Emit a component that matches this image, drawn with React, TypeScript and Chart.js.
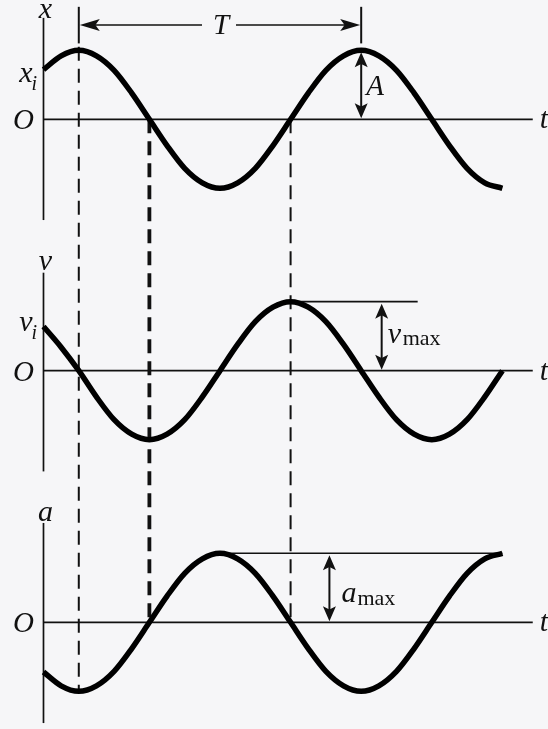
import { useEffect, useRef } from "react";
import { Chart, registerables } from "chart.js";

Chart.register(...registerables);

// Time in quarter periods (one period T = 4 units), sampled every T/16.
const times = [0, 0.25, 0.5, 0.75, 1, 1.25, 1.5, 1.75, 2, 2.25, 2.5, 2.75, 3, 3.25, 3.5, 3.75, 4, 4.25, 4.5, 4.75, 5, 5.25, 5.5, 5.75, 6, 6.25, 6.5];

// Each quantity in units of its own amplitude (A, v_max, a_max).
const position = [0.72, 0.92, 1, 0.92, 0.71, 0.38, 0, -0.38, -0.71, -0.92, -1, -0.92, -0.71, -0.38, 0, 0.38, 0.71, 0.92, 1, 0.92, 0.71, 0.38, 0, -0.38, -0.71, -0.92, -1];
const velocity = [0.64, 0.34, 0, -0.38, -0.71, -0.92, -1, -0.92, -0.71, -0.38, 0, 0.38, 0.71, 0.92, 1, 0.92, 0.71, 0.38, 0, -0.38, -0.71, -0.92, -1, -0.92, -0.71, -0.38, 0];
const acceleration = [-0.72, -0.92, -1, -0.92, -0.71, -0.38, 0, 0.38, 0.71, 0.92, 1, 0.92, 0.71, 0.38, 0, -0.38, -0.71, -0.92, -1, -0.92, -0.71, -0.38, 0, 0.38, 0.71, 0.92, 1];

// Axis names and the initial-value labels.
const axisNames = ["x", "v", "a"];
const initialNames = ["x", "v"];

// One period marked between two successive maxima of x.
const periodStart = 0.5;
const periodEnd = 4.5;

// Dashed guides dropped through the three graphs: time, top (x graph), bottom (a graph).
const guideTimes = [0.5, 1.5, 3.5];
const guideTops = [1.05, 0, 0];
const guideBottoms = [-1, 0, 0];

// Amplitude markers: arrow time, reference line start/end.
const amplitudeArrowTimes = [4.5, 4.79, 4.05];
const amplitudeLineStarts = [4.5, 3.5, 2.5];
const amplitudeLineEnds = [4.5, 5.3, 6.5];

const SERIF = '"Liberation Serif", "Times New Roman", serif';
const INK = "#111";

const panelIds = ["yx", "yv", "ya"];

function arrowHead(ctx, x, y, dx, dy, len, half) {
  const px = -dy;
  const py = dx;
  ctx.beginPath();
  ctx.moveTo(x, y);
  ctx.lineTo(x - dx * len + px * half, y - dy * len + py * half);
  ctx.lineTo(x - dx * len * 0.78, y - dy * len * 0.78);
  ctx.lineTo(x - dx * len - px * half, y - dy * len - py * half);
  ctx.closePath();
  ctx.fill();
}

function line(ctx, x1, y1, x2, y2, w) {
  ctx.lineWidth = w;
  ctx.beginPath();
  ctx.moveTo(x1, y1);
  ctx.lineTo(x2, y2);
  ctx.stroke();
}

function text(ctx, s, x, y, font, align = "left") {
  ctx.font = font;
  ctx.textAlign = align;
  ctx.textBaseline = "alphabetic";
  ctx.fillText(s, x, y);
}

const diagramPlugin = {
  id: "diagram",
  beforeDraw(chart) {
    const { ctx, width, height } = chart;
    ctx.save();
    ctx.fillStyle = "#f6f6f8";
    ctx.fillRect(0, 0, width, height);
    ctx.restore();
  },
  beforeDatasetsDraw(chart) {
    const { ctx, scales } = chart;
    const X = (t) => scales.x.getPixelForValue(t);
    const Y = (id, v) => scales[id].getPixelForValue(v);
    ctx.save();
    ctx.strokeStyle = INK;
    ctx.fillStyle = INK;
    ctx.lineCap = "butt";

    // axes of the three graphs
    const axisTop = [1.47, 1.42, 1.44];
    const axisBottom = [-1.46, -1.46, -1.46];
    panelIds.forEach((id, i) => {
      line(ctx, X(0), Y(id, axisTop[i]), X(0), Y(id, axisBottom[i]), 1.7);
      line(ctx, X(0), Y(id, 0), X(6.93), Y(id, 0), 1.7);
    });

    // dashed guides
    ctx.setLineDash([14, 8]);
    guideTimes.forEach((t, i) => {
      line(ctx, X(t), Y("yx", guideTops[i]), X(t), Y("ya", guideBottoms[i]), i === 1 ? 3.8 : 2);
    });
    ctx.setLineDash([]);

    // amplitude reference lines
    panelIds.forEach((id, i) => {
      if (amplitudeLineEnds[i] > amplitudeLineStarts[i]) {
        line(ctx, X(amplitudeLineStarts[i]), Y(id, 1), X(amplitudeLineEnds[i]), Y(id, 1), 1.6);
      }
    });
    ctx.restore();
  },
  afterDatasetsDraw(chart) {
    const { ctx, scales } = chart;
    const X = (t) => scales.x.getPixelForValue(t);
    const Y = (id, v) => scales[id].getPixelForValue(v);
    ctx.save();
    ctx.strokeStyle = INK;
    ctx.fillStyle = INK;

    const x0 = X(0);
    const italic = `italic 30px ${SERIF}`;

    // axis names, origins and t
    panelIds.forEach((id, i) => {
      const zero = Y(id, 0);
      text(ctx, axisNames[i], x0 + 2, Y(id, 1.57) + 7.5, italic, "center");
      text(ctx, "O", x0 - 20, zero + 10, `italic 29px ${SERIF}`, "center");
      text(ctx, "t", X(7.03), zero + 9, italic, "left");
    });

    // initial values
    initialNames.forEach((n, i) => {
      const id = panelIds[i];
      const base = Y(id, i === 0 ? 0.54 : 0.58);
      text(ctx, n, x0 - 11, base, italic, "right");
      text(ctx, "i", x0 - 12, base + 8, `italic 20px ${SERIF}`, "left");
    });

    // period T
    const tickTop = Y("yx", 1.63);
    const tickBottom = Y("yx", 1.1);
    const yT = Y("yx", 1.367);
    const xs = X(periodStart);
    const xe = X(periodEnd);
    line(ctx, xs, tickTop, xs, tickBottom, 2);
    line(ctx, xe, tickTop, xe, tickBottom, 2);
    const xMid = (xs + xe) / 2;
    line(ctx, xs + 10, yT, xMid - 18, yT, 1.6);
    line(ctx, xMid + 16, yT, xe - 10, yT, 1.6);
    arrowHead(ctx, xs + 1, yT, -1, 0, 20, 6);
    arrowHead(ctx, xe - 1, yT, 1, 0, 20, 6);
    text(ctx, "T", xMid + 1, yT + 9, `italic 29px ${SERIF}`, "center");

    // amplitude arrows and labels
    panelIds.forEach((id, i) => {
      const ax = X(amplitudeArrowTimes[i]);
      const top = Y(id, 1) + 2;
      const bot = Y(id, 0) - 1;
      line(ctx, ax, top + 8, ax, bot - 8, 2);
      arrowHead(ctx, ax, top, 0, -1, 15, 6.5);
      arrowHead(ctx, ax, bot, 0, 1, 15, 6.5);
    });
    text(ctx, "A", X(4.5) + 5, Y("yx", 0.35), `italic 29px ${SERIF}`, "left");
    text(ctx, "v", X(4.79) + 6, Y("yv", 0.4), italic, "left");
    text(ctx, "max", X(4.79) + 21, Y("yv", 0.37), `22px ${SERIF}`, "left");
    text(ctx, "a", X(4.05) + 12, Y("ya", 0.3), italic, "left");
    text(ctx, "max", X(4.05) + 28, Y("ya", 0.25), `22px ${SERIF}`, "left");

    ctx.restore();
  },
};

function curve(values, id) {
  return {
    data: times.map((t, i) => ({ x: t, y: values[i] })),
    yAxisID: id,
    borderColor: "#000",
    borderWidth: 5.5,
    cubicInterpolationMode: "monotone",
    pointRadius: 0,
    fill: false,
  };
}

export default function App() {
  const ref = useRef(null);
  useEffect(() => {
    const chart = new Chart(ref.current, {
      type: "line",
      data: {
        datasets: [curve(position, "yx"), curve(velocity, "yv"), curve(acceleration, "ya")],
      },
      options: {
        animation: false,
        responsive: false,
        maintainAspectRatio: false,
        events: [],
        layout: { padding: 0 },
        plugins: { legend: { display: false }, tooltip: { enabled: false } },
        scales: {
          x: { type: "linear", min: -0.616, max: 7.146, display: false },
          yx: { type: "linear", position: "left", min: -8.836, max: 1.729, display: false },
          yv: { type: "linear", position: "left", min: -5.193, max: 5.372, display: false },
          ya: { type: "linear", position: "left", min: -1.546, max: 9.019, display: false },
        },
      },
      plugins: [diagramPlugin],
    });
    return () => chart.destroy();
  }, []);
  return (
    <div style={{ position: "fixed", left: 0, top: 0, width: 548, height: 729 }}>
      <canvas ref={ref} width={548} height={729} style={{ display: "block" }} />
    </div>
  );
}
